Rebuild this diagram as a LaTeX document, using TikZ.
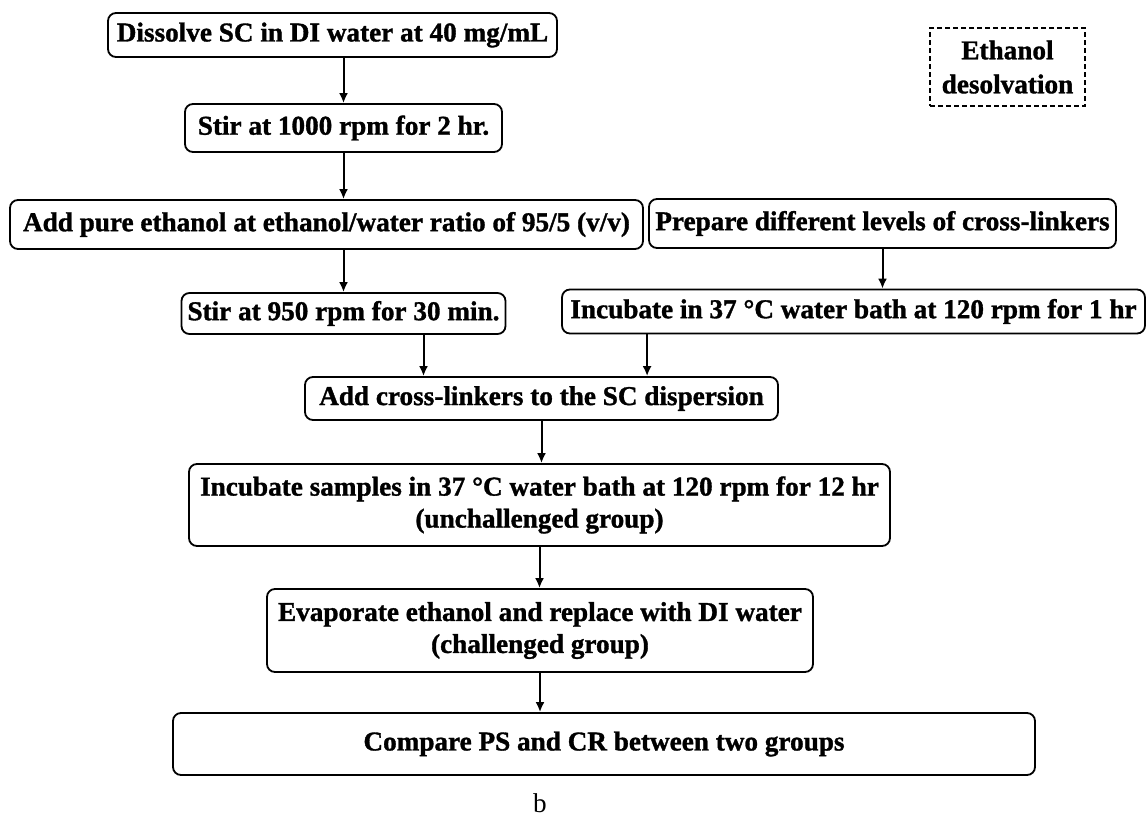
\documentclass[tikz,border=0pt]{standalone}
\usepackage{fontspec}
\setmainfont{Liberation Serif}[BoldFeatures={FakeBold=1.2}]
\usetikzlibrary{arrows.meta}
\tikzset{
  stepbox/.style = {
    draw, line width=1.8pt, rounded corners=8pt, align=center,
    font=\bfseries\fontsize{27.2}{32}\selectfont,
    inner xsep=2pt, inner ysep=1pt
  },
  notebox/.style = {
    draw, line width=1.8pt, dash pattern=on 5pt off 3pt, align=center,
    font=\bfseries\fontsize{27.2}{34}\selectfont
  }
}
\tikzset{>={Latex[length=10pt,width=9pt]}}

\begin{document}
\begin{tikzpicture}[x=1pt,y=-1pt,line width=2pt]
  \useasboundingbox (0,0) rectangle (1148,820);
  % main column
  \node[stepbox,minimum width=449pt,minimum height=44pt] (dissolve) at (332.5,35) {Dissolve SC in DI water at 40 mg/mL};
  \node[stepbox,minimum width=317pt,minimum height=48pt] (stir1) at (343.5,128) {Stir at 1000 rpm for 2 hr.};
  \node[stepbox,minimum width=633pt,minimum height=49pt] (addeth) at (326.5,224.5) {Add pure ethanol at ethanol/water ratio of 95/5 (v/v)};
  \node[stepbox,minimum width=467pt,minimum height=49pt] (prep) at (882.5,223.5) {Prepare different levels of cross-linkers};
  \node[stepbox,minimum width=324pt,minimum height=41pt] (stir2) at (343.5,313.5) {Stir at 950 rpm for 30 min.};
  \node[stepbox,minimum width=583pt,minimum height=44pt] (incub1) at (853.5,311.5) {Incubate in 37 \textdegree C water bath at 120 rpm for 1 hr};
  \node[stepbox,minimum width=473pt,minimum height=43pt] (addcl) at (541.5,398.5) {Add cross-linkers to the SC dispersion};
  \node[stepbox,minimum width=701pt,minimum height=82pt] (incub2) at (539.5,505) {Incubate samples in 37 \textdegree C water bath at 120 rpm for 12 hr\\(unchallenged group)};
  \node[stepbox,minimum width=546pt,minimum height=83pt] (evap) at (540,630.5) {Evaporate ethanol and replace with DI water\\(challenged group)};
  \node[stepbox,minimum width=862pt,minimum height=62pt] (comp) at (604,744) {Compare PS and CR between two groups};
  % side note
  \node[notebox,minimum width=155pt,minimum height=78pt] (ethdes) at (1007.5,67) {Ethanol\\desolvation};
  \node[font=\fontsize{27.2}{32}\selectfont] (lbl) at (540,803) {b};
  % arrows
  \draw[->] (dissolve.south -| stir1) -- (stir1.north);
  \draw[->] (stir1.south) -- (stir1.south |- addeth.north);
  \draw[->] (addeth.south -| stir2) -- (stir2.north);
  \draw[->] (prep.south) -- (prep.south |- incub1.north);
  \draw[->] ([xshift=80pt]stir2.south) -- ([xshift=80pt]stir2.south |- addcl.north);
  \draw[->] ([xshift=86pt]incub1.south west) -- ([xshift=86pt]incub1.south west |- addcl.north);
  \draw[->] (addcl.south) -- (addcl.south |- incub2.north);
  \draw[->] (incub2.south) -- (incub2.south |- evap.north);
  \draw[->] (evap.south) -- (evap.south |- comp.north);
\end{tikzpicture}
\end{document}
